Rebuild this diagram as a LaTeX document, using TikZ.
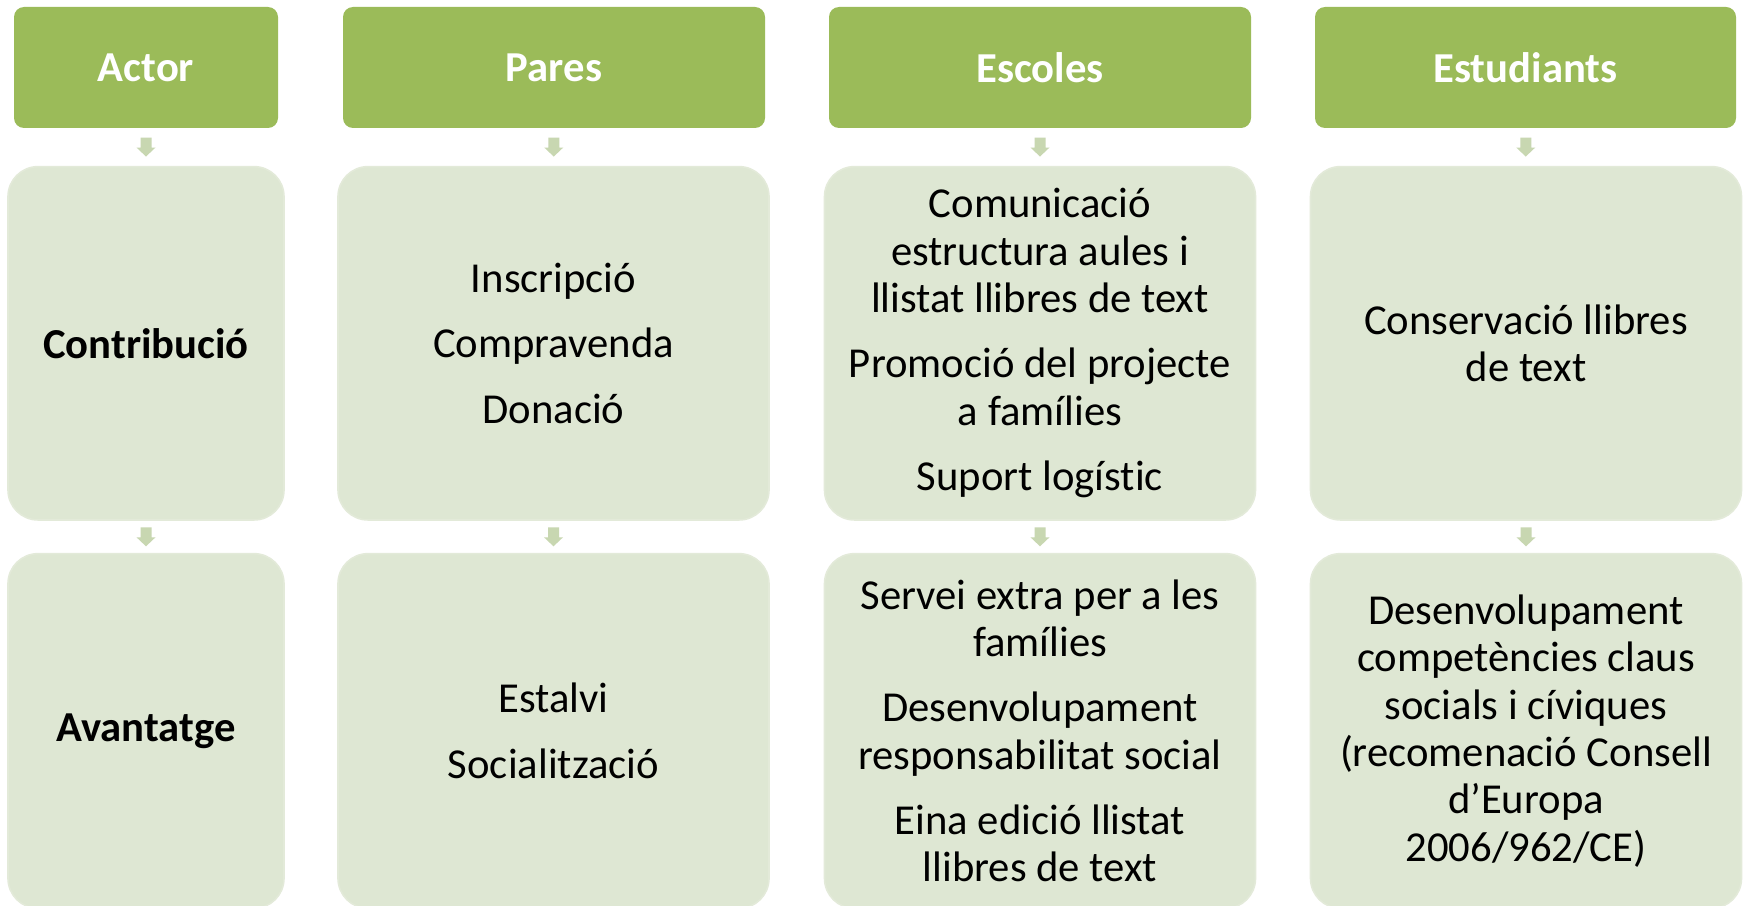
\documentclass[tikz,border=0pt]{standalone}
\usepackage{fontspec}
\setmainfont{Carlito}[Ligatures=NoCommon]
\usetikzlibrary{calc}
\definecolor{headgreen}{HTML}{9BBB59}
\definecolor{boxfill}{HTML}{DEE7D3}
\definecolor{boxedge}{HTML}{E3EAD9}
\definecolor{arrowfill}{HTML}{C8D7B1}
\tikzset{
  headbox/.style={fill=headgreen, rounded corners=7.5pt, inner sep=0pt,
    minimum height=90.75pt, text=white,
    font=\fontsize{32}{35.5}\selectfont\bfseries},
  bodybox/.style={fill=boxfill, draw=boxedge, line width=1.2pt, rounded corners=22.5pt,
    inner sep=0pt, align=center, text=black,
    font=\fontsize{32}{35.5}\selectfont},
  labelbold/.style={font=\fontsize{32}{35.5}\selectfont\bfseries},
  blockarrow/.style={fill=arrowfill}
}
\newcommand{\downblock}[1]{%
  \fill[blockarrow] #1 ++(-5.5,-9.5) -- ++(11,0) -- ++(0,10) -- ++(4,0)
    -- ++(-9.5,9) -- ++(-9.5,-9) -- ++(4,0) -- cycle;}
\begin{document}
\begin{tikzpicture}[x=0.75pt,y=-0.75pt]
\clip (0,0) rectangle (1743,906);
\fill[white] (0,0) rectangle (1743,906);
% headers
\node[headbox, minimum width=198pt]   (h1) at (146,67.5)   {Actor};
\node[headbox, minimum width=316.5pt] (h2) at (554,67.5)   {Pares};
\node[headbox, minimum width=316.5pt] (h3) at (1040,67.5)  {Escoles};
\node[headbox, minimum width=315.75pt](h4) at (1525.5,67.5){Estudiants};
% contribution row
\node[bodybox, minimum width=207pt, minimum height=265pt, labelbold] (c1) at (146,343.3) {Contribució};
\node[bodybox, minimum width=323.25pt, minimum height=265pt] (c2) at (553.5,343.3)
  {Inscripció\\[13.5pt]Compravenda\\[13.5pt]Donació};
\node[bodybox, minimum width=323.25pt, minimum height=265pt] (c3) at (1040,343.3)
  {Comunicació\\estructura aules i\\llistat llibres de text\\[13.5pt]Promoció del projecte\\a famílies\\[13.5pt]Suport logístic};
\node[bodybox, minimum width=323.25pt, minimum height=265pt] (c4) at (1526,343.3)
  {Conservació llibres\\de text};
% advantage row
\node[bodybox, minimum width=207pt, minimum height=266pt, labelbold] (a1) at (146,731) {Avantatge};
\node[bodybox, minimum width=323.25pt, minimum height=266pt] (a2) at (553.5,731)
  {Estalvi\\[13.5pt]Socialització};
\node[bodybox, minimum width=323.25pt, minimum height=266pt] (a3) at (1040,731)
  {Servei extra per a les\\famílies\\[13.5pt]Desenvolupament\\responsabilitat social\\[13.5pt]Eina edició llistat\\llibres de text};
\node[bodybox, minimum width=323.25pt, minimum height=266pt] (a4) at (1526,731)
  {Desenvolupament\\competències claus\\socials i cíviques\\(recomenació Consell\\d’Europa\\2006/962/CE)};
% block arrows
\downblock{($(h1.south)!0.5!(c1.north)$)}
\downblock{($(h2.south)!0.5!(c2.north)$)}
\downblock{($(h3.south)!0.5!(c3.north)$)}
\downblock{($(h4.south)!0.5!(c4.north)$)}
\downblock{($(c1.south)!0.5!(a1.north)$)}
\downblock{($(c2.south)!0.5!(a2.north)$)}
\downblock{($(c3.south)!0.5!(a3.north)$)}
\downblock{($(c4.south)!0.5!(a4.north)$)}
\end{tikzpicture}
\end{document}
